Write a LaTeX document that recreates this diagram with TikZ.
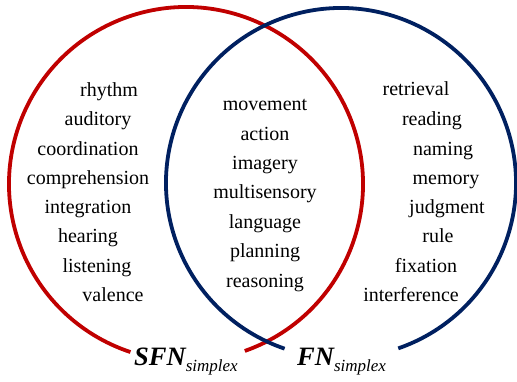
\documentclass[tikz,border=0pt]{standalone}
\usepackage{fontspec}
\setmainfont{Liberation Serif}
\definecolor{vred}{RGB}{192,0,0}
\definecolor{vblue}{RGB}{0,32,96}
\begin{document}
\begin{tikzpicture}[x=1pt,y=1pt,
  word/.style={anchor=base,inner sep=0pt,font=\fontsize{20}{24}\selectfont},
  ring/.style={line width=3.8pt}]
\useasboundingbox (0,0) rectangle (517,-381);
% circles
\coordinate (rc) at (186,-184);
\coordinate (bc) at (341,-183);
\draw[ring,vred] (rc) ++(289.4:177) arc[start angle=289.4,end angle=611.7,radius=177];
\draw[ring,vblue] (bc) ++(289.1:175) arc[start angle=289.1,end angle=611.2,radius=175];
% left
\node[word] (l1) at (109,-96.5) {rhythm};
\node[word] (l2) at (98,-125.5) {auditory};
\node[word] (l3) at (88,-155.5) {coordination};
\node[word] (l4) at (88,-184.5) {comprehension};
\node[word] (l5) at (88,-213.5) {integration};
\node[word] (l6) at (88,-242.5) {hearing};
\node[word] (l7) at (97,-272.5) {listening};
\node[word] (l8) at (113,-301.5) {valence};
% middle
\node[word] (m1) at (265,-110.5) {movement};
\node[word] (m2) at (265,-140.5) {action};
\node[word] (m3) at (265,-169.5) {imagery};
\node[word] (m4) at (265,-198.5) {multisensory};
\node[word] (m5) at (265,-228.5) {language};
\node[word] (m6) at (265,-257.5) {planning};
\node[word] (m7) at (265,-287.5) {reasoning};
% right
\node[word] (r1) at (416,-95.5) {retrieval};
\node[word] (r2) at (432,-125.5) {reading};
\node[word] (r3) at (443,-155.5) {naming};
\node[word] (r4) at (446,-184.5) {memory};
\node[word] (r5) at (447,-213.5) {judgment};
\node[word] (r6) at (438,-242.5) {rule};
\node[word] (r7) at (426,-272.5) {fixation};
\node[word] (r8) at (411,-301.5) {interference};
% labels
\node[anchor=base west,inner sep=0pt] (sfn) at (134,-365)
  {{\fontsize{26.5}{30}\selectfont\bfseries\itshape SFN}{\fontsize{17}{20}\selectfont\itshape\raisebox{-6pt}{simplex}}};
\node[anchor=base west,inner sep=0pt] (fn) at (297,-365)
  {{\fontsize{26.5}{30}\selectfont\bfseries\itshape FN}{\fontsize{17}{20}\selectfont\itshape\raisebox{-6pt}{simplex}}};
\end{tikzpicture}
\end{document}
